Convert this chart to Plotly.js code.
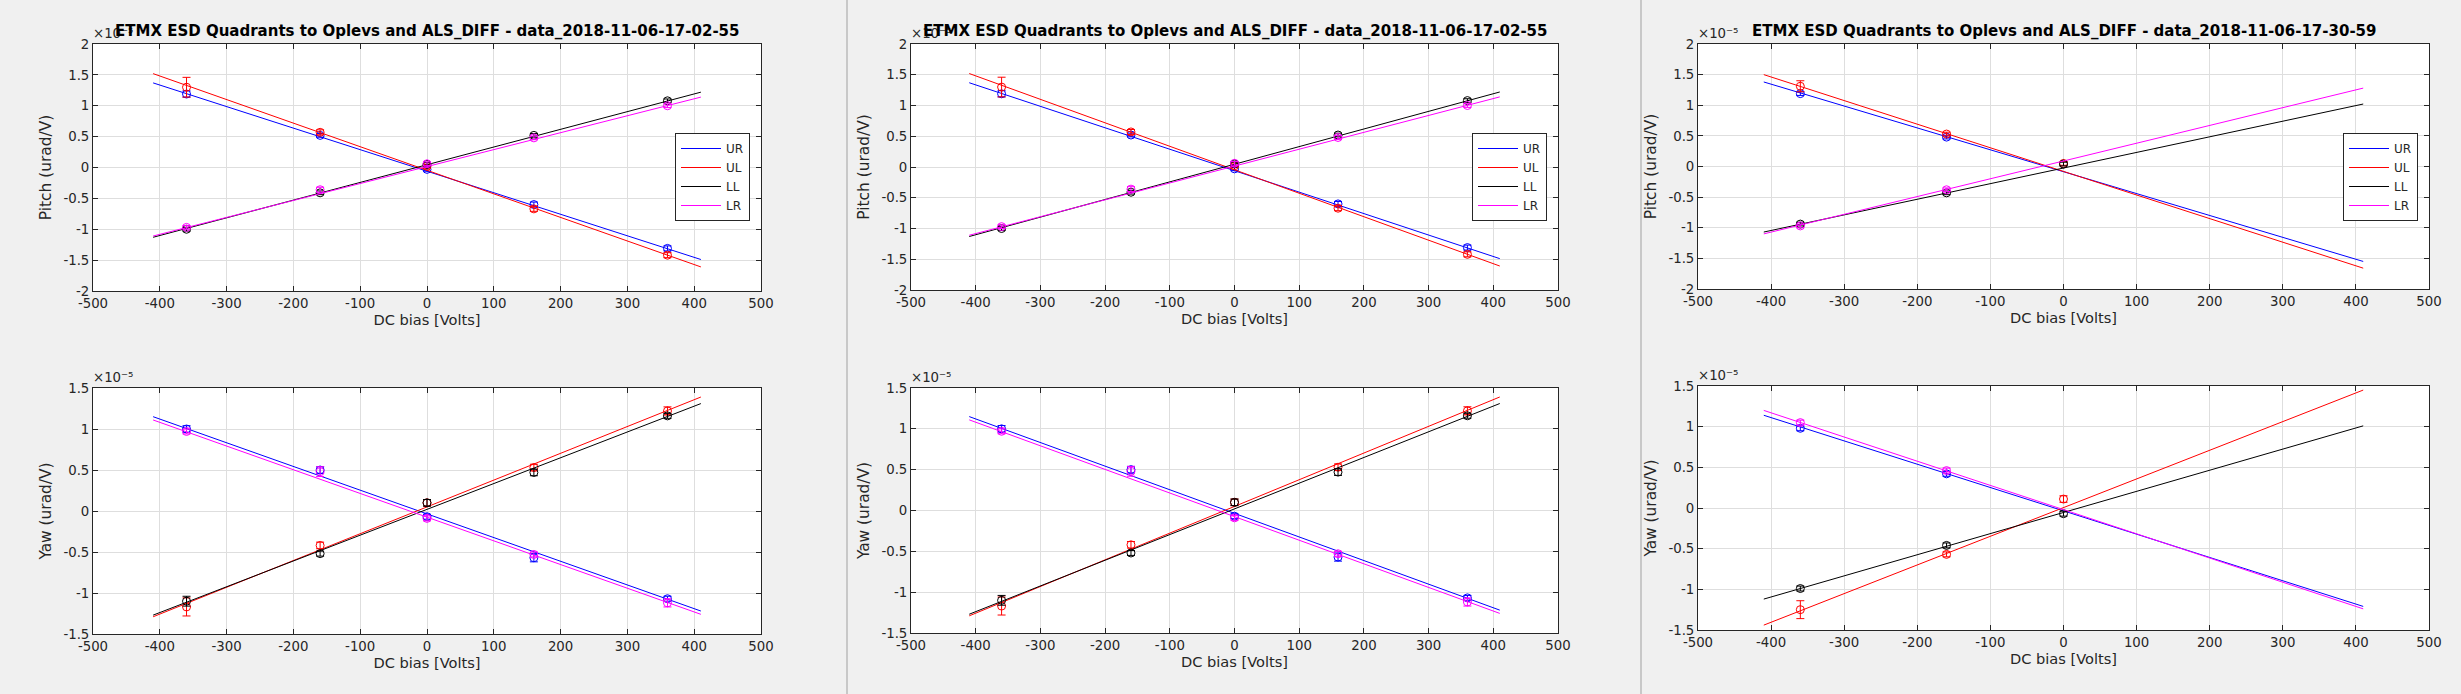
<!DOCTYPE html>
<html>
<head>
<meta charset="utf-8">
<script src="https://cdn.plot.ly/plotly-3.0.1.min.js"></script>
<style>
  html, body { margin: 0; padding: 0; background: #f0f0f0; }
  #plot { width: 2461px; height: 694px; }
</style>
</head>
<body>
<div id="plot"></div>
<script>
// quadrant order everywhere: UR, UL, LL, LR  (values in units of 1e-5 urad/V)
const quadrants = ['UR', 'UL', 'LL', 'LR'];
const quadColors = ['#0000ff', '#ff0000', '#000000', '#ff00ff'];

const biasV = [-360, -160, 0, 160, 360];
const fitV = [-410, 410];

const biasTicks = [-500, -400, -300, -200, -100, 0, 100, 200, 300, 400, 500];
const pitchTicks = [-2, -1.5, -1, -0.5, 0, 0.5, 1, 1.5, 2];
const yawTicks = [-1.5, -1, -0.5, 0, 0.5, 1, 1.5];

const titleA = 'ETMX ESD Quadrants to Oplevs and ALS_DIFF - data_2018-11-06-17-02-55';
const titleB = 'ETMX ESD Quadrants to Oplevs and ALS_DIFF - data_2018-11-06-17-30-59';

// data_2018-11-06-17-02-55
const pitchA = [
  [1.19, 0.52, -0.03, -0.60, -1.31],
  [1.30, 0.57, 0.02, -0.67, -1.42],
  [-1.00, -0.41, 0.05, 0.52, 1.08],
  [-0.97, -0.36, 0.06, 0.48, 1.00]
];
const pitchAErr = [
  [0.05, 0.03, 0.03, 0.04, 0.04],
  [0.16, 0.04, 0.03, 0.04, 0.04],
  [0.03, 0.03, 0.03, 0.03, 0.03],
  [0.03, 0.04, 0.03, 0.03, 0.03]
];
const pitchAFit = [[1.37, -1.49], [1.52, -1.61], [-1.13, 1.22], [-1.11, 1.14]];

const yawA = [
  [1.00, 0.50, -0.07, -0.57, -1.07],
  [-1.17, -0.42, 0.10, 0.53, 1.22],
  [-1.10, -0.52, 0.10, 0.47, 1.16],
  [0.97, 0.48, -0.09, -0.53, -1.12]
];
const yawAErr = [
  [0.04, 0.04, 0.03, 0.05, 0.03],
  [0.11, 0.04, 0.04, 0.04, 0.05],
  [0.06, 0.03, 0.04, 0.04, 0.03],
  [0.03, 0.06, 0.03, 0.03, 0.05]
];
const yawAFit = [[1.15, -1.22], [-1.29, 1.39], [-1.27, 1.31], [1.11, -1.26]];

// data_2018-11-06-17-30-59
const pitchB = [
  [1.19, 0.48, null, null, null],
  [1.31, 0.53, 0.05, null, null],
  [-0.94, -0.43, 0.04, null, null],
  [-0.97, -0.38, null, null, null]
];
const pitchBErr = [
  [0.03, 0.03, 0, 0, 0],
  [0.09, 0.03, 0.03, 0, 0],
  [0.03, 0.03, 0.03, 0, 0],
  [0.03, 0.03, 0, 0, 0]
];
const pitchBFit = [[1.38, -1.55], [1.50, -1.66], [-1.07, 1.02], [-1.10, 1.28]];

const yawB = [
  [0.98, 0.42, null, null, null],
  [-1.25, -0.57, 0.11, null, null],
  [-0.99, -0.46, -0.07, null, null],
  [1.05, 0.46, null, null, null]
];
const yawBErr = [
  [0.03, 0.03, 0, 0, 0],
  [0.11, 0.03, 0.04, 0, 0],
  [0.03, 0.03, 0.03, 0, 0],
  [0.03, 0.03, 0, 0, 0]
];
const yawBFit = [[1.14, -1.21], [-1.44, 1.45], [-1.12, 1.01], [1.20, -1.24]];

const W = 2461, H = 694;
const font = 'DejaVu Sans';
const ink = '#262626';
const tickSize = 13.3, labelSize = 14.6, titleSize = 15;

// panel boxes in pixels: [left, right], [top, bottom] for the pitch and yaw axes
const panels = [
  { x: [93, 761], top: [44, 291], bot: [388, 634], legendX: 675, title: titleA,
    pitch: [pitchA, pitchAErr, pitchAFit], yaw: [yawA, yawAErr, yawAFit] },
  { x: [911, 1558], top: [44, 290], bot: [388, 633], legendX: 1472, title: titleA,
    pitch: [pitchA, pitchAErr, pitchAFit], yaw: [yawA, yawAErr, yawAFit] },
  { x: [1698, 2429], top: [44, 289], bot: [386, 630], legendX: 2343, title: titleB,
    pitch: [pitchB, pitchBErr, pitchBFit], yaw: [yawB, yawBErr, yawBFit] }
];

let traces = [];
let layout = {
  width: W, height: H,
  margin: { l: 0, r: 0, t: 0, b: 0 },
  paper_bgcolor: '#f0f0f0',
  plot_bgcolor: '#ffffff',
  font: { family: font, size: tickSize, color: ink },
  showlegend: true,
  annotations: [],
  shapes: []
};

function xAxis(dom, anchor) {
  return {
    domain: dom, anchor: anchor, range: [-500, 500],
    tickvals: biasTicks, ticktext: biasTicks.map(String),
    ticks: 'inside', ticklen: 5, tickcolor: ink, mirror: 'allticks',
    showline: true, linecolor: ink, linewidth: 1,
    showgrid: true, gridcolor: '#dedede', zeroline: false,
    tickfont: { family: font, size: tickSize, color: ink },
    title: { text: 'DC bias [Volts]', font: { family: font, size: labelSize, color: ink }, standoff: 4 }
  };
}

function yAxis(dom, anchor, ticks, label) {
  return {
    domain: dom, anchor: anchor, range: [ticks[0], ticks[ticks.length - 1]],
    tickvals: ticks, ticktext: ticks.map(String),
    ticks: 'inside', ticklen: 5, tickcolor: ink, mirror: 'allticks',
    showline: true, linecolor: ink, linewidth: 1,
    showgrid: true, gridcolor: '#dedede', zeroline: false,
    tickfont: { family: font, size: tickSize, color: ink },
    title: { text: label, font: { family: font, size: 15.4, color: ink }, standoff: 7 }
  };
}

panels.forEach(function (p, pi) {
  const xd = [p.x[0] / W, p.x[1] / W];
  const rows = [
    { box: p.top, set: p.pitch, ticks: pitchTicks, label: 'Pitch (urad/V)', legend: true },
    { box: p.bot, set: p.yaw, ticks: yawTicks, label: 'Yaw (urad/V)', legend: false }
  ];
  const legName = pi === 0 ? 'legend' : 'legend' + (pi + 1);

  rows.forEach(function (r, ri) {
    const k = pi * 2 + ri + 1;
    const xn = k === 1 ? 'x' : 'x' + k;
    const yn = k === 1 ? 'y' : 'y' + k;
    const yd = [1 - r.box[1] / H, 1 - r.box[0] / H];
    layout[k === 1 ? 'xaxis' : 'xaxis' + k] = xAxis(xd, yn);
    layout[k === 1 ? 'yaxis' : 'yaxis' + k] = yAxis(yd, xn, r.ticks, r.label);

    const vals = r.set[0], errs = r.set[1], fits = r.set[2];
    quadrants.forEach(function (q, qi) {
      traces.push({
        type: 'scatter', mode: 'markers', x: biasV, y: vals[qi],
        xaxis: xn, yaxis: yn, showlegend: false, hoverinfo: 'skip',
        marker: { symbol: 'circle-open', size: 8, color: quadColors[qi], line: { width: 1, color: quadColors[qi] } },
        error_y: { type: 'data', array: errs[qi], visible: true, color: quadColors[qi], thickness: 1, width: 4 }
      });
      traces.push({
        type: 'scatter', mode: 'lines', x: fitV, y: fits[qi], name: q,
        xaxis: xn, yaxis: yn, legend: legName, showlegend: r.legend,
        line: { color: quadColors[qi], width: 1 }
      });
    });

    // axis exponent label
    layout.annotations.push({
      xref: 'paper', yref: 'paper', x: (p.x[0] - 2) / W, y: 1 - (r.box[0] - 1) / H,
      xanchor: 'left', yanchor: 'bottom', showarrow: false,
      text: '×10⁻⁵', font: { family: font, size: tickSize, color: ink }
    });
  });

  // panel title
  layout.annotations.push({
    xref: 'paper', yref: 'paper', x: (p.x[0] + p.x[1]) / 2 / W, y: 1 - 31 / H,
    xanchor: 'center', yanchor: 'middle', showarrow: false,
    text: '<b>' + p.title + '</b>', font: { family: font, size: titleSize, color: '#000000' }
  });

  layout[legName] = {
    x: p.legendX / W, y: 1 - 133 / H, xanchor: 'left', yanchor: 'top',
    bgcolor: '#ffffff', bordercolor: '#262626', borderwidth: 1,
    font: { family: font, size: 12, color: ink }, itemwidth: 40,
    tracegroupgap: 0
  };
});

// figure separators
[847, 1641].forEach(function (px) {
  layout.shapes.push({
    type: 'line', xref: 'paper', yref: 'paper', x0: px / W, x1: px / W, y0: 0, y1: 1,
    line: { color: '#a0a0a0', width: 1 }
  });
});

Plotly.newPlot('plot', traces, layout, { staticPlot: true });
</script>
</body>
</html>
